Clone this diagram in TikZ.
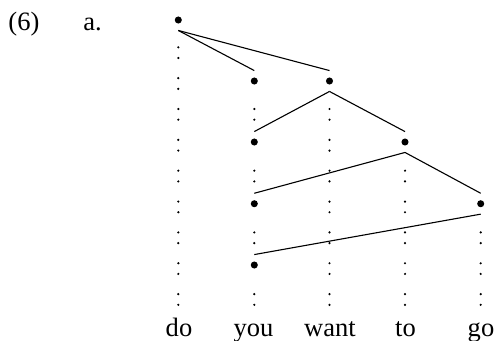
\documentclass[tikz,border=0pt]{standalone}
\usepackage{fontspec}
\setmainfont{Liberation Serif}
\begin{document}
\begin{tikzpicture}[x=0.4525pt,y=-0.4525pt,
  bul/.style={circle,minimum size=9.05pt,inner sep=0pt,
    path picture={\fill (path picture bounding box.center) circle (1.6pt);}},
  br/.style={line width=0.5pt},
  word/.style={anchor=base,inner sep=0pt,font=\fontsize{12}{14}\selectfont},
  lab/.style={anchor=base west,inner sep=0pt,font=\fontsize{12}{14}\selectfont}]
\useasboundingbox (0,0) rectangle (495,340);
% colon-like dotted columns
\foreach \x/\ks in {178.3/{0,1,2,3,4,5,6,7,8}, 254.3/{2,4,6,8}, 329.5/{2,3,4,5,6,7,8}, 405/{4,5,6,7,8}, 480.7/{6,7,8}}{
  \foreach \k in \ks {
    \fill (\x,{47.3+30.85*\k}) circle (0.55pt);
    \fill (\x,{58.0+30.85*\k}) circle (0.55pt);
  }
}
% nodes
\node[bul] (do1) at (178.3,20) {};
\node[bul] (you1) at (254.3,81) {};
\node[bul] (want1) at (329.5,81) {};
\node[bul] (you2) at (254.3,142) {};
\node[bul] (to1) at (405,142) {};
\node[bul] (you3) at (254.3,203.7) {};
\node[bul] (go1) at (480.7,203.7) {};
\node[bul] (you4) at (254.3,265) {};
% branches
\draw[br] (do1.south) -- (you1.north);
\draw[br] (do1.south) -- (want1.north);
\draw[br] (want1.south) -- (you2.north);
\draw[br] (want1.south) -- (to1.north);
\draw[br] (to1.south) -- (you3.north);
\draw[br] (to1.south) -- (go1.north);
\draw[br] (go1.south) -- (you4.north);
% words
\node[word] (wdo) at (179,336) {do};
\node[word] (wyou) at (253.5,336) {you};
\node[word] (wwant) at (330,336) {want};
\node[word] (wto) at (405.5,336) {to};
\node[word] (wgo) at (481,336) {go};
% labels
\node[lab] (num) at (8,30) {(6)};
\node[lab] (sub) at (83,30) {a.};
\end{tikzpicture}
\end{document}
